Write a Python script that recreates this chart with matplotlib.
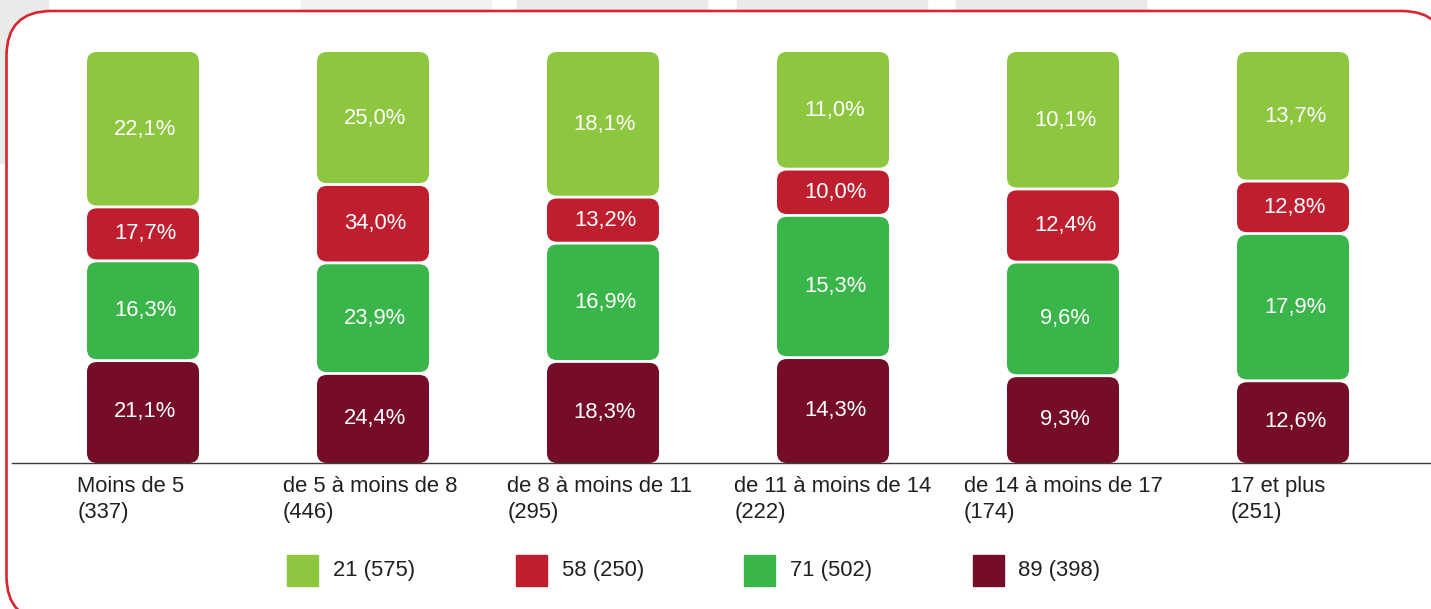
import numpy as np
import matplotlib
matplotlib.use("Agg")
import matplotlib.pyplot as plt
from matplotlib.patches import FancyBboxPatch, Rectangle
from matplotlib.transforms import IdentityTransform

plt.rcParams['font.family'] = ['Liberation Sans', 'DejaVu Sans']

# data
categories = ['Moins de 5', 'de 5 à moins de 8', 'de 8 à moins de 11',
              'de 11 à moins de 14', 'de 14 à moins de 17', '17 et plus']
category_n = [337, 446, 295, 222, 174, 251]

groups = ['21', '58', '71', '89']
group_n = [575, 250, 502, 398]

# percentages within each group (row %), bottom of stack is 89
pct_21 = [22.1, 25.0, 18.1, 11.0, 10.1, 13.7]
pct_58 = [17.7, 34.0, 13.2, 10.0, 12.4, 12.8]
pct_71 = [16.3, 23.9, 16.9, 15.3, 9.6, 17.9]
pct_89 = [21.1, 24.4, 18.3, 14.3, 9.3, 12.6]

colors = {'21': '#8DC63F', '58': '#BE1E2D', '71': '#39B54A', '89': '#750D29'}
text_color = '#231F20'

# small horizontal nudges (px) of the category labels
label_shift = [-12, -3, -3, 0, 0, -15]

W, H = 1431, 609
fig = plt.figure(figsize=(W / 100, H / 100), dpi=100)

# background tabs and rounded red frame (pixel coords)
px = IdentityTransform()
fig.patches.append(Rectangle((0, H - 163), 48, 163, transform=px, color='#E9EBEA', zorder=0))
fig.patches.append(Rectangle((301, H - 9), 190, 9, transform=px, color='#F1F3F2', zorder=0))
for x0, x1 in [(517, 707), (737, 927), (956, 1146)]:
    fig.patches.append(Rectangle((x0, H - 9), x1 - x0, 9, transform=px, color='#E9EBEA', zorder=0))
fig.patches.append(FancyBboxPatch((6.5, -12), 1440, H - 11 + 12, transform=px,
                                  boxstyle='round,pad=0,rounding_size=45',
                                  facecolor='white', edgecolor='#D7262F', lw=1.9, zorder=1))

# axes
ax_left, ax_right, ax_bottom, ax_top = 12, 1431, 463, 52
ax = fig.add_axes([ax_left / W, (H - ax_bottom) / H, (ax_right - ax_left) / W, (ax_bottom - ax_top) / H])
ax.set_zorder(2)
ax.patch.set_visible(False)
step = 230.0
ax.set_xlim(-(143 - ax_left) / step, 5 + (ax_right - 1293) / step)
ax.set_ylim(0, 100)
for s in ['left', 'right', 'top']:
    ax.spines[s].set_visible(False)
ax.spines['bottom'].set_color('#3C3C3C')
ax.spines['bottom'].set_linewidth(1.0)
ax.spines['bottom'].set_zorder(5)
ax.set_xticks([])
ax.set_yticks([])

px_x = (ax_right - ax_left) / (ax.get_xlim()[1] - ax.get_xlim()[0])
px_y = (ax_bottom - ax_top) / 100.0
aspect = px_x / px_y
radius = 10 / px_x
gap = 1.4 / px_y
bar_w = 112 / px_x

stack = [('89', pct_89), ('71', pct_71), ('58', pct_58), ('21', pct_21)]
x = np.arange(len(categories))
counts = np.array([np.array(p) * group_n[groups.index(g)] / 100 for g, p in stack])
shares = counts / counts.sum(axis=0) * 100

for i in x:
    bottom = 0.0
    for k, (g, p) in enumerate(stack):
        h = shares[k, i]
        y0 = bottom + (gap if bottom > 0 else 0)
        y1 = bottom + h - (gap if bottom + h < 99.99 else 0)
        ax.add_patch(FancyBboxPatch((i - bar_w / 2, y0), bar_w, y1 - y0,
                                    boxstyle=f'round,pad=0,rounding_size={radius}',
                                    mutation_aspect=aspect, facecolor=colors[g],
                                    edgecolor='none', zorder=3))
        ax.annotate(f'{p[i]:.1f}%'.replace('.', ','), xy=(i, bottom + h / 2), xytext=(2, 0),
                    textcoords='offset pixels', ha='center', va='center',
                    color='white', fontsize=15.8, zorder=4)
        bottom += h
    ax.annotate(f'{categories[i]}\n({category_n[i]})', xy=(i, 0), xytext=(label_shift[i], -13),
                textcoords='offset pixels', ha='center', va='top', multialignment='left',
                fontsize=15.8, color=text_color, linespacing=1.3, annotation_clip=False)

# legend
for j, g in enumerate(groups):
    lx = 287 + j * 228.5
    fig.patches.append(Rectangle((lx, H - 586), 31, 31, transform=px, color=colors[g], zorder=3))
    fig.text((lx + 46) / W, (H - 570.5) / H, f'{g} ({group_n[j]})', ha='left', va='center',
             fontsize=15.8, color=text_color, zorder=3)

fig.savefig('out.png', dpi=100)
